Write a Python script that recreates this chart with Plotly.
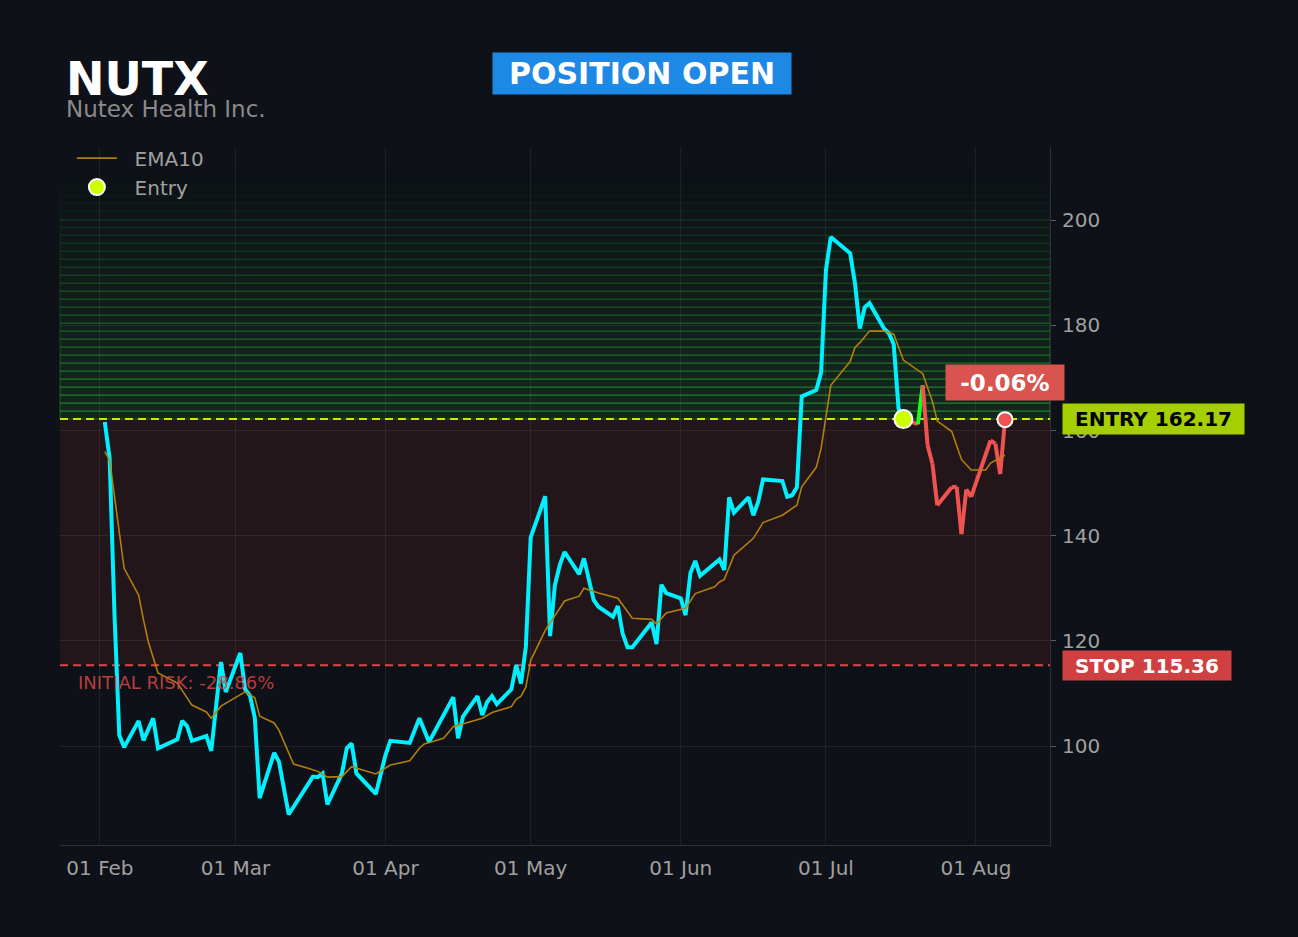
import plotly.graph_objects as go

# ---------------- data ----------------
ticker = "NUTX"
company = "Nutex Health Inc."
entry_price = 162.17
stop_price = 115.36

price_dates = ["2025-02-02", "2025-02-03", "2025-02-04", "2025-02-05", "2025-02-06", "2025-02-09", "2025-02-10",
               "2025-02-12", "2025-02-13", "2025-02-17", "2025-02-18", "2025-02-19", "2025-02-20", "2025-02-23",
               "2025-02-24", "2025-02-26", "2025-02-27", "2025-03-02", "2025-03-03", "2025-03-04", "2025-03-05",
               "2025-03-06", "2025-03-09", "2025-03-10", "2025-03-12", "2025-03-17", "2025-03-18", "2025-03-19",
               "2025-03-20", "2025-03-23", "2025-03-24", "2025-03-25", "2025-03-26", "2025-03-30", "2025-04-01",
               "2025-04-02", "2025-04-06", "2025-04-08", "2025-04-10", "2025-04-15", "2025-04-16", "2025-04-17",
               "2025-04-20", "2025-04-21", "2025-04-22", "2025-04-23", "2025-04-24", "2025-04-27", "2025-04-28",
               "2025-04-29", "2025-04-30", "2025-05-01", "2025-05-04", "2025-05-05", "2025-05-06", "2025-05-07",
               "2025-05-08", "2025-05-11", "2025-05-12", "2025-05-13", "2025-05-14", "2025-05-15", "2025-05-18",
               "2025-05-19", "2025-05-20", "2025-05-21", "2025-05-22", "2025-05-26", "2025-05-27", "2025-05-28",
               "2025-05-29", "2025-06-01", "2025-06-02", "2025-06-03", "2025-06-04", "2025-06-05", "2025-06-08",
               "2025-06-09", "2025-06-10", "2025-06-11", "2025-06-12", "2025-06-15", "2025-06-16", "2025-06-17",
               "2025-06-18", "2025-06-22", "2025-06-23", "2025-06-24", "2025-06-25", "2025-06-26", "2025-06-29",
               "2025-06-30", "2025-07-01", "2025-07-02", "2025-07-06", "2025-07-07", "2025-07-08", "2025-07-09",
               "2025-07-10", "2025-07-13", "2025-07-14", "2025-07-15", "2025-07-16", "2025-07-17"]
price_values = [161.6, 154.8, 125.2, 102.1, 99.8, 104.8, 101.1,
                105.3, 99.6, 101.3, 104.8, 103.8, 101.0, 101.9,
                99.1, 116.0, 110.3, 117.7, 110.8, 109.6, 105.4,
                90.1, 98.7, 97.0, 87.0, 94.2, 94.1, 94.8,
                88.9, 94.8, 99.6, 100.5, 94.8, 90.9, 98.3,
                101.0, 100.6, 105.3, 100.8, 109.3, 101.5, 105.6,
                109.5, 105.9, 108.4, 109.5, 108.0, 110.8, 115.4,
                111.9, 118.9, 139.7, 147.5, 120.9, 130.6, 134.4,
                136.9, 132.7, 135.7, 131.6, 127.8, 126.5, 124.6,
                126.6, 121.4, 118.8, 118.8, 123.5, 119.4, 130.7,
                129.1, 128.1, 124.9, 132.9, 135.2, 132.4, 134.6,
                135.5, 133.5, 147.3, 144.4, 147.3, 143.9, 146.4,
                150.7, 150.4, 147.4, 147.7, 149.2, 166.5, 167.7,
                171.0, 190.5, 196.8, 193.7, 188.0, 179.4, 183.4,
                184.2, 179.4, 178.5, 176.4, 164.2, 162.17]

post_dates = ["2025-07-17", "2025-07-20", "2025-07-21", "2025-07-22", "2025-07-23", "2025-07-24", "2025-07-27",
              "2025-07-28", "2025-07-29", "2025-07-30", "2025-07-31", "2025-08-04", "2025-08-05", "2025-08-06",
              "2025-08-07"]
post_values = [162.17, 161.2, 168.6, 157.2, 153.7, 145.8, 149.2,
               149.3, 140.3, 148.8, 147.4, 158.1, 157.5, 151.7,
               162.07]

ema_dates = ["2025-02-02", "2025-02-03", "2025-02-06", "2025-02-09", "2025-02-10", "2025-02-11", "2025-02-13",
             "2025-02-17", "2025-02-20", "2025-02-23", "2025-02-24", "2025-02-26", "2025-03-03", "2025-03-05",
             "2025-03-06", "2025-03-09", "2025-03-10", "2025-03-13", "2025-03-16", "2025-03-18", "2025-03-20",
             "2025-03-23", "2025-03-25", "2025-03-30", "2025-04-02", "2025-04-06", "2025-04-08", "2025-04-09",
             "2025-04-13", "2025-04-15", "2025-04-21", "2025-04-23", "2025-04-27", "2025-04-28", "2025-04-29",
             "2025-04-30", "2025-05-01", "2025-05-04", "2025-05-08", "2025-05-11", "2025-05-12", "2025-05-15",
             "2025-05-19", "2025-05-22", "2025-05-26", "2025-05-27", "2025-05-29", "2025-06-01", "2025-06-02",
             "2025-06-04", "2025-06-08", "2025-06-09", "2025-06-10", "2025-06-12", "2025-06-16", "2025-06-18",
             "2025-06-22", "2025-06-25", "2025-06-26", "2025-06-29", "2025-06-30", "2025-07-02", "2025-07-06",
             "2025-07-07", "2025-07-08", "2025-07-10", "2025-07-13", "2025-07-15", "2025-07-17", "2025-07-21",
             "2025-07-23", "2025-07-24", "2025-07-27", "2025-07-29", "2025-07-31", "2025-08-03", "2025-08-04",
             "2025-08-07"]
ema_values = [156.0, 154.4, 133.8, 128.7, 124.0, 119.8, 113.9,
              112.0, 107.8, 106.5, 105.3, 107.6, 110.3, 109.2,
              105.7, 104.4, 103.0, 96.6, 95.8, 95.2, 94.1,
              94.2, 96.1, 94.7, 96.4, 97.2, 99.6, 100.4,
              101.5, 103.7, 105.3, 106.4, 107.5, 108.9, 109.5,
              111.2, 116.3, 122.0, 127.6, 128.5, 130.0, 129.1,
              128.1, 124.3, 124.1, 123.2, 125.3, 125.9, 126.2,
              129.0, 130.3, 131.2, 131.7, 136.3, 139.5, 142.5,
              143.9, 145.8, 149.3, 153.0, 156.6, 168.6, 173.1,
              175.8, 176.7, 178.9, 178.9, 178.3, 173.4, 170.8,
              165.5, 161.8, 159.8, 154.5, 152.5, 152.5, 153.8,
              155.3]

x_range = ["2025-01-23 18:00", "2025-08-16 07:00"]
y_range = [81.2, 213.9]

# ---------------- style ----------------
BG = "#0e1117"
CYAN = "#00f0ff"
RED = "#ef5350"
GREEN = "#1aff1a"
EMA_C = "#b8860b"
ENTRY_C = "#c8e800"
GRID = "rgba(255,255,255,0.07)"
TXT = "#a0a0a0"
NB = "\u00a0\u00a0"

fig = go.Figure()

# price before entry
fig.add_trace(go.Scatter(x=price_dates, y=price_values, mode="lines",
                         line=dict(color=CYAN, width=4), showlegend=False, hoverinfo="skip"))

# post-entry segments coloured by whether the segment ends above entry
for i in range(len(post_dates) - 1):
    col = GREEN if post_values[i + 1] >= entry_price else RED
    fig.add_trace(go.Scatter(x=post_dates[i:i + 2], y=post_values[i:i + 2], mode="lines",
                             line=dict(color=col, width=4), showlegend=False, hoverinfo="skip"))

# EMA
fig.add_trace(go.Scatter(x=ema_dates, y=ema_values, mode="lines", name=NB + "EMA10",
                         line=dict(color=EMA_C, width=1.6), opacity=0.95))

# entry marker
fig.add_trace(go.Scatter(x=[post_dates[0]], y=[entry_price], mode="markers", name=NB + "Entry",
                         marker=dict(color="#ccff00", size=18, line=dict(color="white", width=2))))
# current marker
fig.add_trace(go.Scatter(x=[post_dates[-1]], y=[post_values[-1]], mode="markers", showlegend=False,
                         marker=dict(color=RED, size=15, line=dict(color="white", width=2))))

shapes = []
# green gradient bands above entry
n_bands = 31
step = 1.52
for k in range(n_bands):
    a = 0.13 * (1 - k / n_bands)
    y0 = entry_price + k * step
    shapes.append(dict(type="rect", xref="paper", yref="y", x0=0, x1=1, y0=y0, y1=y0 + step,
                       fillcolor=f"rgba(46,204,64,{a:.4f})",
                       line=dict(color=f"rgba(56,214,74,{min(a * 2.8, 0.38):.4f})", width=1),
                       layer="below"))
# risk zone
shapes.append(dict(type="rect", xref="paper", yref="y", x0=0, x1=1, y0=stop_price, y1=entry_price,
                   fillcolor="rgba(239,83,80,0.09)", line=dict(width=0), layer="below"))
# entry & stop lines
shapes.append(dict(type="line", xref="paper", yref="y", x0=0, x1=1, y0=entry_price, y1=entry_price,
                   line=dict(color=ENTRY_C, width=2, dash="8px,5px"), layer="between"))
shapes.append(dict(type="line", xref="paper", yref="y", x0=0, x1=1, y0=stop_price, y1=stop_price,
                   line=dict(color="#e04848", width=2, dash="8px,5px"), layer="between"))

pct = (post_values[-1] - entry_price) / entry_price * 100
risk = (stop_price - entry_price) / entry_price * 100

annotations = [
    dict(text=f"<b>{ticker}</b>", xref="paper", yref="paper", x=0.004, y=1.097, xanchor="left",
         yanchor="middle", showarrow=False, font=dict(size=46, color="white", family="DejaVu Sans")),
    dict(text=company, xref="paper", yref="paper", x=0.004, y=1.054, xanchor="left",
         yanchor="middle", showarrow=False, font=dict(size=23, color="#8a8a8a", family="DejaVu Sans")),
    dict(text="<b>POSITION OPEN</b>", xref="paper", yref="paper", x=0.5879, y=1.1053, xanchor="center",
         yanchor="middle", showarrow=False, bgcolor="#1e88e5", width=298, height=41, borderpad=0,
         font=dict(size=30, color="white", family="DejaVu Sans")),
    dict(text=f"<b>{pct:.2f}%</b>", xref="x", yref="y", x=post_dates[-1], y=post_values[-1],
         yshift=37, xanchor="center", yanchor="middle", showarrow=False, bgcolor="#d9534f",
         width=118, height=35, borderpad=0, font=dict(size=23, color="white", family="DejaVu Sans")),
    dict(text=f"<b>ENTRY {entry_price:.2f}</b>", xref="paper", yref="y", x=1.0121, y=entry_price,
         xanchor="left", yanchor="middle", showarrow=False, bgcolor="#a5cf00", width=181, height=30,
         borderpad=0, font=dict(size=20, color="black", family="DejaVu Sans")),
    dict(text=f"<b>STOP {stop_price:.2f}</b>", xref="paper", yref="y", x=1.0121, y=stop_price,
         xanchor="left", yanchor="middle", showarrow=False, bgcolor="#d04040", width=168, height=29,
         borderpad=0, font=dict(size=20, color="white", family="DejaVu Sans")),
    dict(text=f"INITIAL RISK: {risk:.2f}%", xref="paper", yref="y", x=0.016, y=stop_price,
         yshift=-17, xanchor="left", yanchor="middle", showarrow=False,
         font=dict(size=18, color="rgba(220,70,70,0.85)", family="DejaVu Sans")),
]

fig.update_layout(
    width=1298, height=937,
    paper_bgcolor=BG, plot_bgcolor=BG,
    margin=dict(l=60, r=248, t=147, b=92),
    font=dict(family="DejaVu Sans", color=TXT),
    shapes=shapes, annotations=annotations,
    legend=dict(x=0.012, y=1.012, xanchor="left", yanchor="top", bgcolor="rgba(0,0,0,0)",
                itemwidth=40, font=dict(size=20, color=TXT)),
    showlegend=True,
)
fig.update_xaxes(type="date", range=x_range, dtick="M1", tick0="2025-02-01", tickformat="%d %b",
                 showgrid=True, gridcolor=GRID, showline=True, linecolor="#2c3038", linewidth=1,
                 tickfont=dict(size=20, color=TXT), zeroline=False, ticklabelstandoff=5)
fig.update_yaxes(side="right", range=y_range, dtick=20, tick0=0, showgrid=True, gridcolor=GRID,
                 showline=True, linecolor="#2c3038", linewidth=1, ticks="outside", ticklen=5,
                 tickcolor="#5a5e66", tickfont=dict(size=20, color=TXT), zeroline=False,
                 ticklabelstandoff=2)

fig.write_html("out.html", config={"displayModeBar": False},
               post_script="document.body.style.margin='0';document.body.style.background='#0e1117';")
